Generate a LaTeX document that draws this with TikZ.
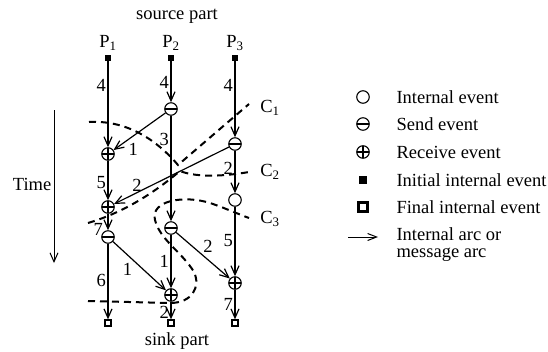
\documentclass[tikz,border=0pt]{standalone}
\usepackage{fontspec}
\setmainfont{Liberation Serif}
\usetikzlibrary{arrows.meta}

\tikzset{
  evt/.style={draw,circle,line width=1.1pt,minimum size=12.5pt,inner sep=0pt},
  sendevt/.style={evt,path picture={\draw[line width=1.1pt]
      (path picture bounding box.west) -- (path picture bounding box.east);}},
  recvevt/.style={evt,path picture={\draw[line width=1.1pt]
      (path picture bounding box.west) -- (path picture bounding box.east)
      (path picture bounding box.north) -- (path picture bounding box.south);}},
  initevt/.style={fill,rectangle,minimum size=6.5pt,inner sep=0pt},
  finalevt/.style={draw,rectangle,line width=1.3pt,minimum size=6pt,inner sep=0pt},
  arcline/.style={line width=1.2pt,-{Straight Barb[length=9pt,width=8pt]}},
  cutline/.style={line width=2pt,dash pattern=on 7pt off 5pt},
  wt/.style={inner sep=1.5pt}
}

\begin{document}
\begin{tikzpicture}[x=1pt,y=-1pt,font=\fontsize{18.5}{15}\selectfont]
    \useasboundingbox (0,0) rectangle (548,351);

    % process heads and feet
    \node (src) at (177,16) {source part};
    \node (snk) at (177,341) {sink part};
    \node (p1) at (108,43) {P\textsubscript{1}};
    \node (p2) at (171,43) {P\textsubscript{2}};
    \node (p3) at (235,43) {P\textsubscript{3}};

    % events of P1
    \node[initevt] (s1) at (108,58) {};
    \node[recvevt] (r11) at (108,154) {};
    \node[recvevt] (r12) at (108,207) {};
    \node[sendevt] (e13) at (108,237) {};
    \node[finalevt] (f1) at (108,323) {};
    % events of P2
    \node[initevt] (s2) at (171,58) {};
    \node[sendevt] (e21) at (171,109) {};
    \node[sendevt] (e22) at (171,228) {};
    \node[recvevt] (e23) at (171,295) {};
    \node[finalevt] (f2) at (171,323) {};
    % events of P3
    \node[initevt] (s3) at (235,58) {};
    \node[sendevt] (e31) at (235,144) {};
    \node[evt] (e32) at (235,200) {};
    \node[recvevt] (e33) at (235,283) {};
    \node[finalevt] (f3) at (235,323) {};

    % internal arcs
    \draw[arcline] (s1) -- (r11) node[pos=.28,left,wt] {4};
    \draw[arcline] (r11) -- (r12) node[pos=.55,left,wt] {5};
    \draw[arcline] (r12) -- (e13) node[pos=.95,left,wt,xshift=-3pt] {7};
    \draw[arcline] (e13) -- (f1) node[pos=.48,left,wt] {6};
    \draw[arcline] (s2) -- (e21) node[pos=.52,left,wt] {4};
    \draw[arcline] (e21) -- (e22) node[pos=.22,left,wt] {3};
    \draw[arcline] (e22) -- (e23) node[pos=.5,left,wt] {1};
    \draw[arcline] (e23) -- (f2) node[pos=.62,left,wt] {2};
    \draw[arcline] (s3) -- (e31) node[pos=.31,left,wt] {4};
    \draw[arcline] (e31) -- (e32) node[pos=.42,left,wt] {2};
    \draw[arcline] (e32) -- (e33) node[pos=.48,left,wt] {5};
    \draw[arcline] (e33) -- (f3) node[pos=.5,left,wt] {7};

    % message arcs
    \draw[arcline] (e21) -- (r11) node[pos=.62,below=3pt] {1};
    \draw[arcline] (e31) -- (r12) node[pos=.8,above,inner sep=0pt] {2};
    \draw[arcline] (e13) -- (e23) node[pos=.4,below left,wt] {1};
    \draw[arcline] (e22) -- (e33) node[pos=.47,above right,wt] {2};

    % cuts
    \node (c1) at (270,108) {C\textsubscript{1}};
    \node (c2) at (270,172) {C\textsubscript{2}};
    \node (c3) at (270,219) {C\textsubscript{3}};
    \coordinate (c1end) at (249,104);
    \coordinate (c2end) at (249,172);
    \coordinate (c3end) at (249,218);
    \draw[cutline] (89,122) .. controls (125,120) and (155,138) .. (178,165)
        -- (c1end);
    \draw[cutline] (88,223) .. controls (125,212) and (155,192) .. (180,171)
        .. controls (195,177) and (220,177) .. (c2end);
    \draw[cutline] (88,301) -- (170,303) .. controls (192,303) and (201,287) .. (194,272)
        .. controls (182,252) and (160,240) .. (155,220)
        .. controls (150,200) and (185,195) .. (210,203)
        .. controls (225,208) and (238,214) .. (c3end);

    % time axis
    \coordinate (t0) at (54,110);
    \coordinate (t1) at (54,263);
    \draw[line width=1pt,-{Straight Barb[length=9pt,width=8pt]}] (t0) -- (t1);
    \node[anchor=east,wt] (time) at (53,184) {Time};

    % legend
    \node[evt] (k1) at (363,97) {};
    \node[sendevt] (k2) at (363,124) {};
    \node[recvevt] (k3) at (363,152) {};
    \node[initevt,minimum size=8pt] (k4) at (363,180) {};
    \node[finalevt,minimum size=9pt,line width=2.2pt] (k5) at (363,207) {};
    \coordinate (k6a) at (348,237);
    \coordinate (k6b) at (378,237);
    \draw[line width=1pt,-{Straight Barb[length=9pt,width=7pt]}] (k6a) -- (k6b);
    \node[anchor=west] (t1k) at (393,97) {Internal event};
    \node[anchor=west] (t2k) at (393,124) {Send event};
    \node[anchor=west] (t3k) at (393,152) {Receive event};
    \node[anchor=west] (t4k) at (393,180) {Initial internal event};
    \node[anchor=west] (t5k) at (393,207) {Final internal event};
    \node[anchor=west,align=left,font=\fontsize{18.5}{17}\selectfont] (t6k) at (393,245)
        {Internal arc or\\message arc};
\end{tikzpicture}
\end{document}
